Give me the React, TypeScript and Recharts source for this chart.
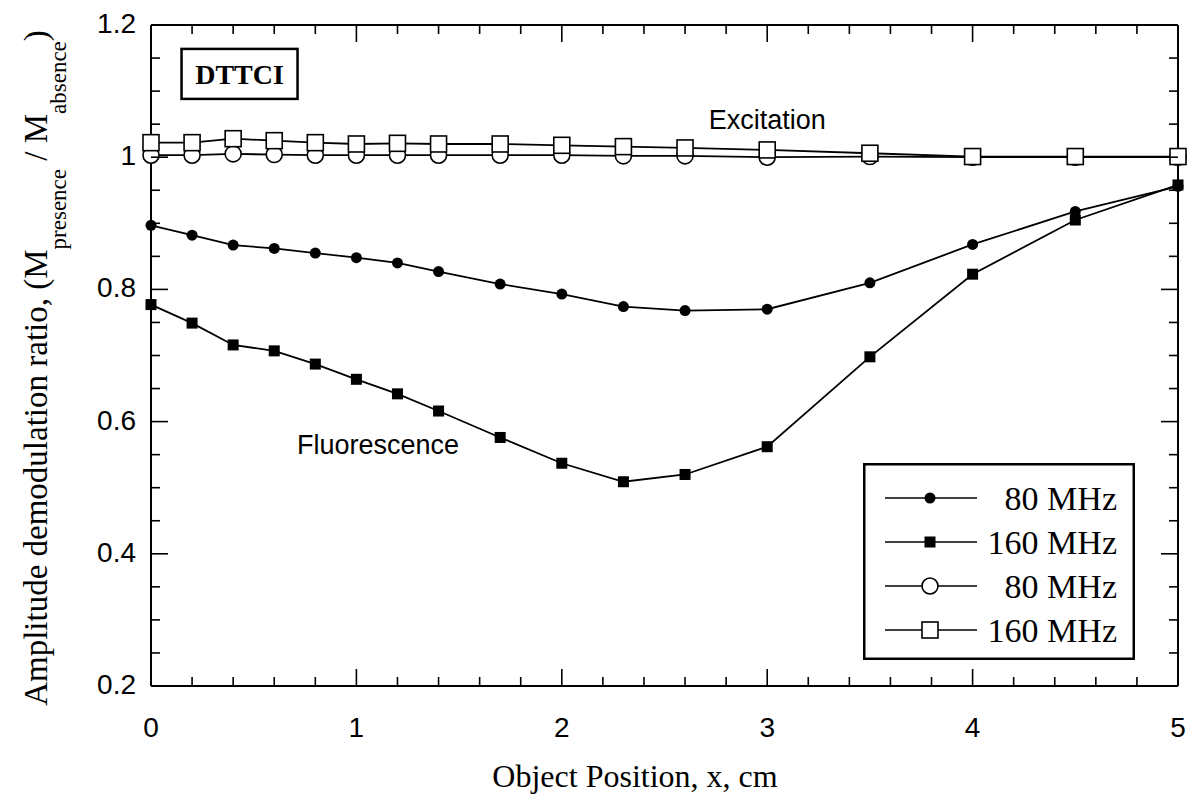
import { LineChart, Line, XAxis, YAxis, ReferenceDot, Legend } from "recharts";

// object position along x (cm)
const positions = [0, 0.2, 0.4, 0.6, 0.8, 1, 1.2, 1.4, 1.7, 2, 2.3, 2.6, 3, 3.5, 4, 4.5, 5];

// fluorescence demodulation ratio (filled symbols)
const fluor80 = [0.897, 0.882, 0.867, 0.862, 0.855, 0.848, 0.84, 0.827, 0.808, 0.793, 0.774, 0.768, 0.77, 0.81, 0.868, 0.918, 0.956];
const fluor160 = [0.777, 0.749, 0.716, 0.707, 0.687, 0.664, 0.642, 0.616, 0.576, 0.537, 0.509, 0.52, 0.562, 0.698, 0.823, 0.905, 0.958];

// excitation demodulation ratio (open symbols)
const excit80 = [1.003, 1.003, 1.005, 1.004, 1.003, 1.003, 1.003, 1.003, 1.003, 1.003, 1.002, 1.002, 1.0, 1.001, 1.0, 1.0, 1.0];
const excit160 = [1.022, 1.022, 1.028, 1.025, 1.022, 1.02, 1.021, 1.02, 1.02, 1.018, 1.016, 1.014, 1.011, 1.006, 1.001, 1.001, 1.001];

const xTicks = [0, 0.2, 0.4, 0.6, 0.8, 1, 1.2, 1.4, 1.6, 1.8, 2, 2.2, 2.4, 2.6, 2.8, 3, 3.2, 3.4, 3.6, 3.8, 4, 4.2, 4.4, 4.6, 4.8, 5];
const yTicks = [0.2, 0.25, 0.3, 0.35, 0.4, 0.45, 0.5, 0.55, 0.6, 0.65, 0.7, 0.75, 0.8, 0.85, 0.9, 0.95, 1, 1.05, 1.1, 1.15, 1.2];

const legendItems = [
  { label: "80 MHz", kind: "filledCircle" },
  { label: "160 MHz", kind: "filledSquare" },
  { label: "80 MHz", kind: "openCircle" },
  { label: "160 MHz", kind: "openSquare" },
];

const rows = positions.map((x, i) => ({
  x,
  fluor80: fluor80[i],
  fluor160: fluor160[i],
  excit80: excit80[i],
  excit160: excit160[i],
}));

const SANS = "'Liberation Sans', Arial, Helvetica, sans-serif";
const SERIF = "'Liberation Serif', 'Times New Roman', Times, serif";
const MAJOR = 17;
const MINOR = 9;
const axisLine = { stroke: "#000", strokeWidth: 2 };

const isMajorX = (v: number) => Math.abs(v - Math.round(v)) < 1e-6;
const isMajorY = (v: number) => Math.abs(v * 5 - Math.round(v * 5)) < 1e-6;

function Marker({ kind, cx, cy }: { kind: string; cx: number; cy: number }) {
  switch (kind) {
    case "filledCircle":
      return <circle cx={cx} cy={cy} r={5.5} fill="#000" />;
    case "filledSquare":
      return <rect x={cx - 5.5} y={cy - 5.5} width={11} height={11} fill="#000" />;
    case "openCircle":
      return <circle cx={cx} cy={cy} r={8} fill="#fff" stroke="#000" strokeWidth={1.6} />;
    default:
      return <rect x={cx - 8} y={cy - 8} width={16} height={16} fill="#fff" stroke="#000" strokeWidth={1.6} />;
  }
}

const makeDot = (kind: string) => (p: any) => (
  <g key={`${kind}-${p.index}`}>
    <Marker kind={kind} cx={p.cx} cy={p.cy} />
  </g>
);

// ticks point into the plot; labels only on bottom and left
const BottomTick = (p: any) => {
  const major = isMajorX(p.payload.value);
  return (
    <g>
      <line x1={p.x} y1={p.y} x2={p.x} y2={p.y - (major ? MAJOR : MINOR)} stroke="#000" strokeWidth={1.6} />
      {major && (
        <text x={p.x} y={p.y + 51} textAnchor="middle" fontSize={28} fontFamily={SANS} fill="#000">
          {String(p.payload.value)}
        </text>
      )}
    </g>
  );
};

const TopTick = (p: any) => {
  const major = isMajorX(p.payload.value);
  return <line x1={p.x} y1={p.y} x2={p.x} y2={p.y + (major ? MAJOR : MINOR)} stroke="#000" strokeWidth={1.6} />;
};

const LeftTick = (p: any) => {
  const major = isMajorY(p.payload.value);
  return (
    <g>
      <line x1={p.x} y1={p.y} x2={p.x + (major ? MAJOR : MINOR)} y2={p.y} stroke="#000" strokeWidth={1.6} />
      {major && (
        <text x={p.x - 15} y={p.y + 8} textAnchor="end" fontSize={28} fontFamily={SANS} fill="#000">
          {String(p.payload.value)}
        </text>
      )}
    </g>
  );
};

const RightTick = (p: any) => {
  const major = isMajorY(p.payload.value);
  return <line x1={p.x} y1={p.y} x2={p.x - (major ? MAJOR : MINOR)} y2={p.y} stroke="#000" strokeWidth={1.6} />;
};

const XTitle = () => (
  <text x={635} y={787} textAnchor="middle" fontSize={32} fontFamily={SERIF} fill="#000">
    Object Position, x, cm
  </text>
);

const YTitle = () => (
  <text
    x={47}
    y={368}
    transform="rotate(-90, 47, 368)"
    textAnchor="middle"
    fontSize={33}
    fontFamily={SERIF}
    fill="#000"
  >
    Amplitude demodulation ratio, (M
    <tspan dy={19} fontSize={23}>presence</tspan>
    <tspan dy={-19}> / M</tspan>
    <tspan dy={19} fontSize={23}>absence</tspan>
    <tspan dy={-19}>)</tspan>
  </text>
);

const centerOf = (vb: any) => ({ cx: vb.x + vb.width / 2, cy: vb.y + vb.height / 2 });

const NoteText = (text: string) => (props: any) => {
  const { cx, cy } = centerOf(props.viewBox);
  return (
    <text x={cx} y={cy} textAnchor="middle" dominantBaseline="central" fontSize={27} fontFamily={SANS} fill="#000">
      {text}
    </text>
  );
};

const DyeBox = (props: any) => {
  const { cx, cy } = centerOf(props.viewBox);
  return (
    <g>
      <rect x={cx - 58} y={cy - 25} width={116} height={50} fill="#fff" stroke="#000" strokeWidth={2.5} />
      <text x={cx} y={cy + 1} textAnchor="middle" dominantBaseline="central" fontSize={28} fontWeight="bold" fontFamily={SERIF} fill="#000">
        DTTCI
      </text>
    </g>
  );
};

const LegendBox = () => (
  <svg width={272} height={197} style={{ display: "block" }}>
    <rect x={1.25} y={1.25} width={269.5} height={194.5} fill="#fff" stroke="#000" strokeWidth={2.5} />
    {legendItems.map((item, i) => {
      const cy = 35 + i * 44;
      return (
        <g key={i}>
          <line x1={22} y1={cy} x2={114} y2={cy} stroke="#000" strokeWidth={1.6} />
          <Marker kind={item.kind} cx={67} cy={cy} />
          <text x={254} y={cy + 11.5} textAnchor="end" fontSize={34} fontFamily={SERIF} fill="#000">
            {item.label}
          </text>
        </g>
      );
    })}
  </svg>
);

export default function App() {
  return (
    <div style={{ position: "absolute", left: 0, top: 0, width: 1194, height: 802, background: "#fff" }}>
      <LineChart width={1194} height={802} data={rows} margin={{ top: 24, right: 15, bottom: 0, left: 0 }}>
        <XAxis
          xAxisId="bottom"
          type="number"
          dataKey="x"
          domain={[0, 5]}
          ticks={xTicks}
          interval={0}
          height={116}
          tickSize={0}
          tickMargin={0}
          tickLine={false}
          axisLine={axisLine}
          tick={BottomTick}
          label={{ content: XTitle }}
        />
        <XAxis
          xAxisId="top"
          orientation="top"
          type="number"
          dataKey="x"
          domain={[0, 5]}
          ticks={xTicks}
          interval={0}
          height={1}
          tickSize={0}
          tickMargin={0}
          tickLine={false}
          axisLine={axisLine}
          tick={TopTick}
        />
        <YAxis
          yAxisId="left"
          type="number"
          domain={[0.2, 1.2]}
          ticks={yTicks}
          interval={0}
          width={151}
          tickSize={0}
          tickMargin={0}
          tickLine={false}
          axisLine={axisLine}
          tick={LeftTick}
          label={{ content: YTitle }}
        />
        <YAxis
          yAxisId="right"
          orientation="right"
          type="number"
          domain={[0.2, 1.2]}
          ticks={yTicks}
          interval={0}
          width={1}
          tickSize={0}
          tickMargin={0}
          tickLine={false}
          axisLine={axisLine}
          tick={RightTick}
        />

        {/* excitation curves sit on the mirrored top/right axes (same domains) */}
        <Line xAxisId="top" yAxisId="right" type="linear" dataKey="excit80" stroke="#000" strokeWidth={1.8}
          dot={makeDot("openCircle")} activeDot={false} legendType="none" isAnimationActive={false} />
        <Line xAxisId="top" yAxisId="right" type="linear" dataKey="excit160" stroke="#000" strokeWidth={1.8}
          dot={makeDot("openSquare")} activeDot={false} legendType="none" isAnimationActive={false} />
        <Line xAxisId="bottom" yAxisId="left" type="linear" dataKey="fluor80" stroke="#000" strokeWidth={1.8}
          dot={makeDot("filledCircle")} activeDot={false} legendType="none" isAnimationActive={false} />
        <Line xAxisId="bottom" yAxisId="left" type="linear" dataKey="fluor160" stroke="#000" strokeWidth={1.8}
          dot={makeDot("filledSquare")} activeDot={false} legendType="none" isAnimationActive={false} />

        <ReferenceDot xAxisId="bottom" yAxisId="left" x={0.431} y={1.126} r={1} fill="none" stroke="none"
          label={{ content: DyeBox }} />
        <ReferenceDot xAxisId="bottom" yAxisId="left" x={3.0} y={1.056} r={1} fill="none" stroke="none"
          label={{ content: NoteText("Excitation") }} />
        <ReferenceDot xAxisId="bottom" yAxisId="left" x={1.105} y={0.565} r={1} fill="none" stroke="none"
          label={{ content: NoteText("Fluorescence") }} />

        <Legend
          layout="vertical"
          align="center"
          verticalAlign="middle"
          content={LegendBox}
          wrapperStyle={{ left: 863, top: 463, width: 272, height: 197 }}
        />
      </LineChart>
    </div>
  );
}
